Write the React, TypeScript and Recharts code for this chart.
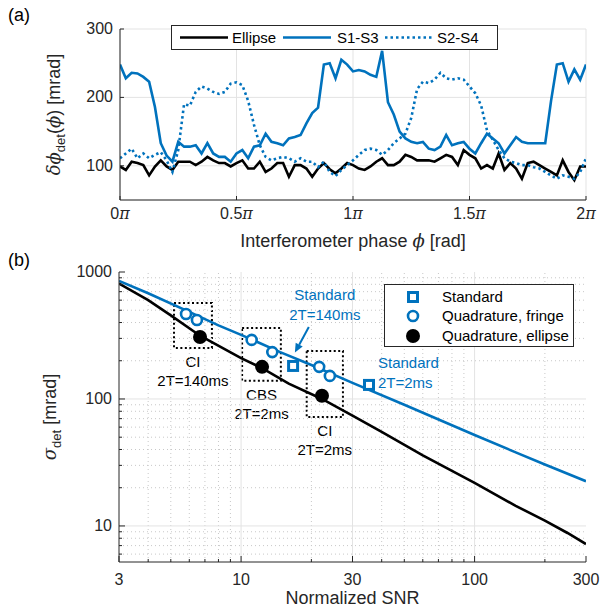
import React from "react";
import {
  ComposedChart,
  LineChart,
  Line,
  Scatter,
  XAxis,
  YAxis,
  CartesianGrid,
  ReferenceLine,
  ReferenceArea,
  ReferenceDot,
} from "recharts";

const BLUE = "#0072BD";
const INK = "#262626";
const GRID = "#e3e3e3";
const FONT = "'Liberation Sans', Arial, Helvetica, sans-serif";
const SERIF = "'DejaVu Serif', 'Liberation Serif', serif";

// (a) detection noise against interferometer phase (phase in units of pi)
const phase = [
  0, 0.025, 0.05, 0.075, 0.1, 0.125, 0.15, 0.175, 0.2, 0.225, 0.25, 0.275, 0.3, 0.325, 0.35, 0.375,
  0.4, 0.425, 0.45, 0.475, 0.5, 0.525, 0.55, 0.575, 0.6, 0.625, 0.65, 0.675, 0.7, 0.725, 0.75, 0.775,
  0.8, 0.825, 0.85, 0.875, 0.9, 0.925, 0.95, 0.975, 1, 1.025, 1.05, 1.075, 1.1, 1.125, 1.15, 1.175,
  1.2, 1.225, 1.25, 1.275, 1.3, 1.325, 1.35, 1.375, 1.4, 1.425, 1.45, 1.475, 1.5, 1.525, 1.55, 1.575,
  1.6, 1.625, 1.65, 1.675, 1.7, 1.725, 1.75, 1.775, 1.8, 1.825, 1.85, 1.875, 1.9, 1.925, 1.95, 1.975, 2,
];
const ellipseNoise = [
  99, 94, 106, 104, 101, 86, 99, 108, 99, 94,
  106, 106, 106, 101, 106, 113, 108, 104, 104, 99,
  104, 108, 96, 96, 106, 91, 96, 104, 104, 84,
  101, 101, 96, 84, 96, 104, 95, 89, 96, 104,
  101, 96, 94, 99, 106, 111, 101, 101, 106, 116,
  113, 108, 108, 108, 106, 111, 116, 113, 101, 123,
  116, 111, 96, 101, 96, 118, 94, 104, 96, 81,
  104, 106, 101, 96, 91, 86, 108, 91, 79, 99,
  99,
];
const s13Noise = [
  248, 228, 236, 235, 230, 223, 186, 133, 115, 106,
  135, 128, 128, 130, 118, 133, 118, 113, 113, 106,
  118, 123, 111, 128, 130, 147, 135, 133, 130, 140,
  142, 145, 162, 177, 185, 248, 250, 228, 255, 248,
  238, 240, 238, 233, 230, 268, 193, 175, 150, 140,
  135, 133, 135, 125, 123, 128, 145, 130, 133, 135,
  125, 118, 133, 147, 140, 133, 118, 130, 142, 135,
  133, 133, 133, 133, 195, 248, 250, 223, 241, 226,
  248,
];
const s24Noise = [
  111, 118, 125, 111, 118, 111, 116, 120, 108, 91,
  123, 190, 188, 208, 216, 213, 208, 205, 208, 220,
  222, 218, 195, 160, 130, 113, 108, 111, 113, 111,
  106, 111, 106, 106, 98, 106, 91, 85, 94, 101,
  108, 116, 123, 125, 123, 116, 123, 133, 140, 147,
  170, 212, 223, 221, 226, 236, 228, 226, 228, 226,
  216, 206, 188, 152, 138, 123, 111, 106, 104, 101,
  101, 98, 96, 91, 86, 81, 86, 84, 81, 91,
  111,
];
const phaseTicks = [0, 0.5, 1, 1.5, 2];
const noiseTicks = [100, 200, 300];

// (b) detection noise against normalized SNR
const snrTicks = [3, 10, 30, 100, 300];
const snrMinor = [4, 5, 6, 7, 8, 9, 20, 40, 50, 60, 70, 80, 90, 200];
const sigmaTicks = [10, 100, 1000];
const sigmaMinor = [6, 7, 8, 9, 20, 30, 40, 50, 60, 70, 80, 90, 200, 300, 400, 500, 600, 700, 800, 900];

const fringeCurveSnr = [3, 4, 6, 8, 10, 14.7, 20, 30, 50, 100, 150, 200, 300];
const fringeCurveSigma = [850, 680, 485, 380, 320, 234, 185, 134, 90, 52, 38, 30.5, 22.5];
const ellipseCurveSnr = [3, 4, 5, 6.67, 10, 12.3, 16, 22.2, 30, 40, 60, 100, 150, 200, 250, 300];
const ellipseCurveSigma = [810, 600, 455, 315, 210, 175, 132, 100, 74, 55, 36, 21.8, 14.4, 11, 8.8, 7.2];

const standardSnr = [16.7, 35.3];
const standardSigma = [182, 129];
const fringeSnr = [5.81, 6.47, 11.1, 13.6, 21.6, 24.0];
const fringeSigma = [467, 419, 292, 234, 179, 152];
const ellipseSnr = [6.67, 12.3, 22.2];
const ellipseSigma = [308, 179, 106];

const phaseData = phase.map((p, i) => ({
  phase: p,
  ellipse: ellipseNoise[i],
  s13: s13Noise[i],
  s24: s24Noise[i],
}));
const toPoints = (xs: number[], ys: number[]) => xs.map((x, i) => ({ snr: x, sigma: ys[i] }));
const fringeCurve = toPoints(fringeCurveSnr, fringeCurveSigma);
const ellipseCurve = toPoints(ellipseCurveSnr, ellipseCurveSigma);
const standardPts = toPoints(standardSnr, standardSigma);
const fringePts = toPoints(fringeSnr, fringeSigma);
const ellipsePts = toPoints(ellipseSnr, ellipseSigma);

const snrAllTicks = [...snrTicks, ...snrMinor].sort((a, b) => a - b);
const sigmaAllTicks = [...sigmaTicks, ...sigmaMinor].sort((a, b) => a - b);

// tick renderers: MATLAB style ticks point into the plot box
const PhaseTick = ({ x = 0, y = 0, payload }: any) => (
  <g>
    <line x1={x} x2={x} y1={y} y2={y - 4} stroke={INK} />
    <text x={x} y={y + 19} textAnchor="middle" fill={INK} fontSize={16} fontFamily={FONT}>
      {payload.value}
      <tspan fontStyle="italic" fontFamily={SERIF}>π</tspan>
    </text>
  </g>
);
const NoiseTick = ({ x = 0, y = 0, payload }: any) => (
  <g>
    <line x1={x} x2={x + 4} y1={y} y2={y} stroke={INK} />
    <text x={x - 7} y={y + 5} textAnchor="end" fill={INK} fontSize={16} fontFamily={FONT}>
      {payload.value}
    </text>
  </g>
);

const logTick = (majors: number[], side: "bottom" | "left" | "top" | "right") => ({ x = 0, y = 0, payload }: any) => {
  const major = majors.includes(payload.value);
  const len = major ? 6 : 3;
  if (side === "bottom" || side === "top") {
    const dir = side === "bottom" ? -1 : 1;
    return (
      <g>
        <line x1={x} x2={x} y1={y} y2={y + dir * len} stroke={INK} />
        {side === "bottom" && major && (
          <text x={x} y={y + 23} textAnchor="middle" fill={INK} fontSize={16} fontFamily={FONT}>
            {payload.value}
          </text>
        )}
      </g>
    );
  }
  const dir = side === "left" ? 1 : -1;
  return (
    <g>
      <line x1={x} x2={x + dir * len} y1={y} y2={y} stroke={INK} />
      {side === "left" && major && (
        <text x={x - 7} y={y + 5} textAnchor="end" fill={INK} fontSize={16} fontFamily={FONT}>
          {payload.value}
        </text>
      )}
    </g>
  );
};

const SquareMark = ({ cx, cy }: any) => (
  <rect x={cx - 4.5} y={cy - 4.5} width={9} height={9} fill="#fff" stroke={BLUE} strokeWidth={3} />
);
const RingMark = ({ cx, cy }: any) => <circle cx={cx} cy={cy} r={5} fill="#fff" stroke={BLUE} strokeWidth={2.6} />;
const DotMark = ({ cx, cy }: any) => <circle cx={cx} cy={cy} r={7} fill="#000" />;

const boxCaption = (lines: string[]) => ({ viewBox }: any) => (
  <text x={viewBox.x + viewBox.width / 2} y={viewBox.y + viewBox.height + 19} textAnchor="middle" fontSize={15} fontFamily={FONT} fill="#000">
    {lines.map((l, i) => (
      <tspan key={l} x={viewBox.x + viewBox.width / 2} dy={i === 0 ? 0 : 19}>
        {l}
      </tspan>
    ))}
  </text>
);

const blueNote = (lines: string[], dx: number, dy: number, anchor: "start" | "middle") => ({ viewBox }: any) => (
  <text x={viewBox.x + dx} y={viewBox.y + dy} textAnchor={anchor} fontSize={15} fontFamily={FONT} fill={BLUE}>
    {lines.map((l, i) => (
      <tspan key={l} x={viewBox.x + dx} dy={i === 0 ? 0 : 20}>
        {l}
      </tspan>
    ))}
  </text>
);

const Arrow = ({ x1, y1, x2, y2 }: any) => {
  const a = Math.atan2(y2 - y1, x2 - x1);
  const h = 9;
  const w = 4;
  const bx = x2 - h * Math.cos(a);
  const by = y2 - h * Math.sin(a);
  return (
    <g>
      <line x1={x1} y1={y1} x2={bx} y2={by} stroke={BLUE} strokeWidth={2} />
      <path
        d={`M${x2},${y2} L${bx - w * Math.sin(a)},${by + w * Math.cos(a)} L${bx + w * Math.sin(a)},${by - w * Math.cos(a)} Z`}
        fill={BLUE}
      />
    </g>
  );
};

export default function App() {
  return (
    <div style={{ position: "absolute", left: 0, top: 0, width: 602, height: 608, background: "#fff", fontFamily: FONT }}>
      <div style={{ position: "absolute", left: 8, top: 5, fontSize: 18, color: "#000" }}>(a)</div>
      <div style={{ position: "absolute", left: 8, top: 250, fontSize: 18, color: "#000" }}>(b)</div>

      <div style={{ position: "absolute", left: 0, top: 0 }}>
        <LineChart width={602} height={260} data={phaseData} margin={{ top: 29, right: 16, bottom: 30, left: 70 }}>
          <CartesianGrid stroke={GRID} strokeWidth={1} />
          <XAxis
            dataKey="phase"
            type="number"
            domain={[0, 2]}
            ticks={phaseTicks}
            interval={0}
            allowDataOverflow
            height={30}
            stroke={INK}
            tickSize={0}
            tickMargin={0}
            tick={PhaseTick}
            label={{
              content: ({ viewBox }: any) => (
                <text x={viewBox.x + viewBox.width / 2} y={viewBox.y + 47} textAnchor="middle" fontSize={18} fontFamily={FONT} fill={INK}>
                  Interferometer phase <tspan fontStyle="italic" fontFamily={SERIF}>ϕ</tspan> [rad]
                </text>
              ),
            }}
          />
          <XAxis xAxisId="top" orientation="top" type="number" domain={[0, 2]} ticks={phaseTicks} interval={0} allowDataOverflow height={0} stroke={INK} tickSize={0} tickMargin={0} tick={false} />
          <YAxis
            type="number"
            domain={[50, 300]}
            ticks={noiseTicks}
            interval={0}
            allowDataOverflow
            width={50}
            stroke={INK}
            tickSize={0}
            tickMargin={0}
            tick={NoiseTick}
            label={{
              content: ({ viewBox }: any) => {
                const cx = 60;
                const cy = viewBox.y + viewBox.height / 2;
                return (
                  <text transform={`rotate(-90 ${cx} ${cy})`} x={cx} y={cy} textAnchor="middle" fontSize={18} fontFamily={FONT} fill={INK}>
                    <tspan fontStyle="italic" fontFamily={SERIF}>δϕ</tspan>
                    <tspan fontSize={13} dy={5}>det</tspan>
                    <tspan dy={-5}>(</tspan>
                    <tspan fontStyle="italic" fontFamily={SERIF}>ϕ</tspan>
                    <tspan>) [mrad]</tspan>
                  </text>
                );
              },
            }}
          />
          <YAxis yAxisId="right" orientation="right" type="number" domain={[50, 300]} ticks={noiseTicks} interval={0} allowDataOverflow width={0} stroke={INK} tickSize={0} tick={false} />
          <Line dataKey="ellipse" stroke="#000" strokeWidth={2.6} dot={false} isAnimationActive={false} />
          <Line dataKey="s13" stroke={BLUE} strokeWidth={2.6} dot={false} isAnimationActive={false} />
          <Line dataKey="s24" stroke={BLUE} strokeWidth={2.6} strokeDasharray="2.5 3" dot={false} isAnimationActive={false} />
        </LineChart>
      </div>

      <svg style={{ position: "absolute", left: 0, top: 0 }} width={602} height={60}>
        <rect x={171.5} y={25.5} width={326} height={24} fill="#fff" stroke={INK} />
        <line x1={180} x2={228} y1={37.5} y2={37.5} stroke="#000" strokeWidth={2.6} />
        <text x={232} y={43} fontSize={15} fontFamily={FONT} fill="#000">Ellipse</text>
        <line x1={283} x2={331} y1={37.5} y2={37.5} stroke={BLUE} strokeWidth={2.6} />
        <text x={337} y={43} fontSize={15} fontFamily={FONT} fill="#000">S1-S3</text>
        <line x1={385} x2={433} y1={37.5} y2={37.5} stroke={BLUE} strokeWidth={2.6} strokeDasharray="2.5 3" />
        <text x={437} y={43} fontSize={15} fontFamily={FONT} fill="#000">S2-S4</text>
      </svg>

      <div style={{ position: "absolute", left: 0, top: 250 }}>
        <ComposedChart width={602} height={358} margin={{ top: 22, right: 16, bottom: 16, left: 70 }}>
          <XAxis
            dataKey="snr"
            type="number"
            scale="log"
            domain={[3, 300]}
            ticks={snrAllTicks}
            interval={0}
            allowDataOverflow
            height={30}
            stroke={INK}
            tickSize={0}
            tickMargin={0}
            tick={logTick(snrTicks, "bottom")}
            label={{
              content: ({ viewBox }: any) => (
                <text x={viewBox.x + viewBox.width / 2} y={viewBox.y + 42} textAnchor="middle" fontSize={18} fontFamily={FONT} fill={INK}>
                  Normalized SNR
                </text>
              ),
            }}
          />
          <XAxis xAxisId="top" orientation="top" type="number" scale="log" domain={[3, 300]} ticks={snrAllTicks} interval={0} allowDataOverflow height={0} stroke={INK} tickSize={0} tickMargin={0} tick={logTick(snrTicks, "top")} />
          <YAxis
            type="number"
            scale="log"
            domain={[5.2, 1000]}
            ticks={sigmaAllTicks}
            interval={0}
            allowDataOverflow
            width={49}
            stroke={INK}
            tickSize={0}
            tickMargin={0}
            tick={logTick(sigmaTicks, "left")}
            label={{
              content: ({ viewBox }: any) => {
                const cx = 56;
                const cy = viewBox.y + viewBox.height / 2;
                return (
                  <text transform={`rotate(-90 ${cx} ${cy})`} x={cx} y={cy} textAnchor="middle" fontSize={18} fontFamily={FONT} fill={INK}>
                    <tspan fontStyle="italic" fontFamily={SERIF}>σ</tspan>
                    <tspan fontSize={13} dy={5}>det</tspan>
                    <tspan dy={-5}> [mrad]</tspan>
                  </text>
                );
              },
            }}
          />
          <YAxis yAxisId="right" orientation="right" type="number" scale="log" domain={[5.2, 1000]} ticks={sigmaAllTicks} interval={0} allowDataOverflow width={0} stroke={INK} tickSize={0} tickMargin={0} tick={logTick(sigmaTicks, "right")} />

          {snrMinor.map((v) => (
            <ReferenceLine key={`mx${v}`} x={v} stroke="#c8c8c8" strokeDasharray="1 3" />
          ))}
          {sigmaMinor.map((v) => (
            <ReferenceLine key={`my${v}`} y={v} stroke="#c8c8c8" strokeDasharray="1 3" />
          ))}
          {[10, 30, 100].map((v) => (
            <ReferenceLine key={`gx${v}`} x={v} stroke={GRID} />
          ))}
          {[10, 100].map((v) => (
            <ReferenceLine key={`gy${v}`} y={v} stroke={GRID} />
          ))}

          <Line data={fringeCurve} dataKey="sigma" stroke={BLUE} strokeWidth={2.6} dot={false} isAnimationActive={false} />
          <Line data={ellipseCurve} dataKey="sigma" stroke="#000" strokeWidth={2.6} dot={false} isAnimationActive={false} />

          <ReferenceArea x1={5.16} x2={7.5} y1={252} y2={570} fill="none" stroke="#000" strokeWidth={2} strokeDasharray="2 2.5" label={boxCaption(["CI", "2T=140ms"])} />
          <ReferenceArea x1={10.1} x2={14.8} y1={139} y2={362} fill="none" stroke="#000" strokeWidth={2} strokeDasharray="2 2.5" label={boxCaption(["CBS", "2T=2ms"])} />
          <ReferenceArea x1={19.1} x2={27.3} y1={72} y2={239} fill="none" stroke="#000" strokeWidth={2} strokeDasharray="2 2.5" label={boxCaption(["CI", "2T=2ms"])} />

          <Scatter data={standardPts} dataKey="sigma" shape={SquareMark} isAnimationActive={false} />
          <Scatter data={fringePts} dataKey="sigma" shape={RingMark} isAnimationActive={false} />
          <Scatter data={ellipsePts} dataKey="sigma" shape={DotMark} isAnimationActive={false} />

          <ReferenceLine segment={[{ x: 19.5, y: 369 }, { x: 17.0, y: 232 }]} shape={Arrow} />
          <ReferenceDot x={19.5} y={369} r={0} fill="none" stroke="none" label={blueNote(["Standard", "2T=140ms"], 16, -27, "middle")} />
          <ReferenceDot x={35.3} y={129} r={0} fill="none" stroke="none" label={blueNote(["Standard", "2T=2ms"], 9, -17, "start")} />
        </ComposedChart>
      </div>

      <svg style={{ position: "absolute", left: 0, top: 0 }} width={602} height={608} pointerEvents="none">
        <rect x={384.5} y={284.5} width={189} height={62} fill="#fff" stroke={INK} />
        <rect x={408.5} y={292.5} width={9} height={9} fill="#fff" stroke={BLUE} strokeWidth={3} />
        <text x={442} y={302} fontSize={15} fontFamily={FONT} fill="#000">Standard</text>
        <circle cx={413} cy={316} r={5} fill="#fff" stroke={BLUE} strokeWidth={2.6} />
        <text x={442} y={321} fontSize={15} fontFamily={FONT} fill="#000">Quadrature, fringe</text>
        <circle cx={413} cy={336} r={7} fill="#000" />
        <text x={442} y={341} fontSize={15} fontFamily={FONT} fill="#000">Quadrature, ellipse</text>
      </svg>
    </div>
  );
}
